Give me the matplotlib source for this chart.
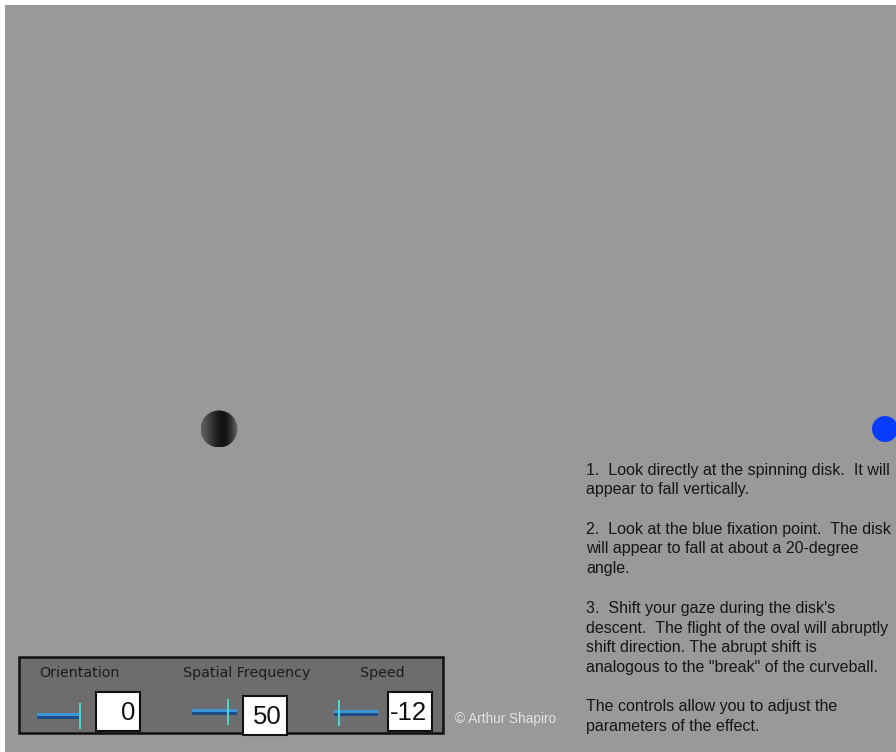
import numpy as np
import matplotlib
matplotlib.use("Agg")
import matplotlib.pyplot as plt
from matplotlib.patches import Rectangle, Circle

# ---------------- data ----------------
slider_labels = ["Orientation", "Spatial Frequency", "Speed"]
slider_values = [0, 50, -12]
slider_min = [-90, 10, -15]
slider_max = [0, 60, 10]
value_texts = ["0", "50", "-12"]

# grey levels across the spinning disk (left -> right)
disk_profile = [92, 80, 64, 48, 34, 24, 18, 22, 40, 66, 96]

instructions = [
    "1.  Look directly at the spinning disk.  It will",
    "appear to fall vertically.",
    "",
    "2.  Look at the blue fixation point.  The disk",
    "will appear to fall at about a 20-degree",
    "angle.",
    "",
    "3.  Shift your gaze during the disk's",
    "descent.  The flight of the oval will abruptly",
    "shift direction. The abrupt shift is",
    "analogous to the \"break\" of the curveball.",
    "",
    "The controls allow you to adjust the",
    "parameters of the effect.",
]
copyright_text = "\u00a9 Arthur Shapiro"

# ---------------- layout / style ----------------
W, H = 896, 752
BG = "#999999"
fig = plt.figure(figsize=(W / 100, H / 100), dpi=100)
fig.patch.set_facecolor("white")
ax = fig.add_axes([0, 0, 1, 1])
ax.axis("off")

ax.add_patch(Rectangle((5, 5), W - 5, H - 5, facecolor=BG, edgecolor="none", zorder=0))

# spinning disk
disk_cx, disk_cy, disk_r = 219, 429, 18.5
prof = np.array(disk_profile, dtype=float) / 255.0
img = np.stack([prof, prof, prof], axis=-1)[None, :, :]
im = ax.imshow(img, extent=(disk_cx - disk_r, disk_cx + disk_r, disk_cy + disk_r, disk_cy - disk_r),
               interpolation="bilinear", zorder=2, aspect="auto")
clip = Circle((disk_cx, disk_cy), disk_r, transform=ax.transData, facecolor="none", edgecolor="none")
ax.add_patch(clip)
im.set_clip_path(clip)

# blue fixation point
ax.add_patch(Circle((885, 429), 13, facecolor="#0a3cff", edgecolor="none", zorder=2))

# instructions
line_h = 19.75
for i, line in enumerate(instructions):
    if line:
        ax.text(586, 470 + i * line_h, line, fontsize=11.5, family="Liberation Sans",
                color="#151515", ha="left", va="center", zorder=3)

# control panel
ax.add_patch(Rectangle((19, 657), 424, 76, facecolor="#6d6d6d", edgecolor="#111111", lw=1.8, zorder=2))
label_x = [79, 247, 382]
track_x0 = [37, 192, 334]
track_x1 = [80, 237, 378]
track_y = [716, 712, 713]
box_x = [96, 243, 388]
box_y = [692, 696, 692]
box_w, box_h = 44, 39
for k in range(3):
    ax.text(label_x[k], 673, slider_labels[k], fontsize=10.3, family="DejaVu Sans",
            color="#1c1c1c", ha="center", va="center", zorder=3)
    x0, x1, ty = track_x0[k], track_x1[k], track_y[k]
    ax.add_patch(Rectangle((x0, ty - 3), x1 - x0, 3, facecolor="#3d95d8", edgecolor="none", zorder=3))
    ax.add_patch(Rectangle((x0, ty), x1 - x0, 2.5, facecolor="#1d4f86", edgecolor="none", zorder=3))
    frac = (slider_values[k] - slider_min[k]) / (slider_max[k] - slider_min[k])
    tx = x0 + frac * (x1 - x0)
    ax.add_patch(Rectangle((tx - 1.2, ty - 13), 2.4, 26, facecolor="#4fd2d2", edgecolor="none", zorder=4))
    ax.add_patch(Rectangle((box_x[k], box_y[k]), box_w, box_h, facecolor="white",
                           edgecolor="#111111", lw=1.5, zorder=4))
    ax.text(box_x[k] + box_w - 5, box_y[k] + box_h / 2 + 1, value_texts[k], fontsize=18.5,
            family="Liberation Sans", color="#111111", ha="right", va="center", zorder=5)

ax.text(455, 719, copyright_text, fontsize=9.8, family="Liberation Sans",
        color="#e4e4e4", ha="left", va="center", zorder=3)

ax.set_xlim(0, W)
ax.set_ylim(H, 0)
fig.savefig("out.png", dpi=100, facecolor=fig.get_facecolor())
